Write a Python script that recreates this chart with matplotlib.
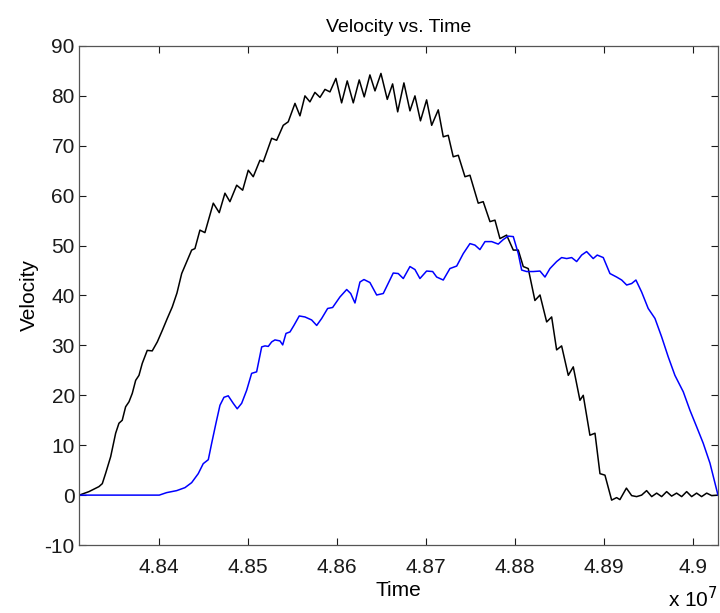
import matplotlib
matplotlib.use("Agg")
import matplotlib.pyplot as plt
import numpy as np
from matplotlib.ticker import FuncFormatter, MultipleLocator

# Time in units of 1e7, velocity
t_black = [4.83098, 4.83117, 4.8321, 4.83322, 4.8336, 4.83398, 4.83454, 4.8351, 4.83547,
           4.83584, 4.83622, 4.8366, 4.83697, 4.83735, 4.83772, 4.83809, 4.83865, 4.83921,
           4.83978, 4.84034, 4.8409, 4.84146, 4.84199, 4.84252, 4.84364, 4.84401, 4.84457,
           4.84513, 4.84607, 4.84674, 4.84738, 4.84794, 4.8487, 4.84937, 4.85, 4.85056,
           4.85131, 4.85169, 4.85263, 4.85319, 4.85393, 4.85449, 4.85525, 4.85581, 4.85637,
           4.85693, 4.85749, 4.85806, 4.85862, 4.85918, 4.85985, 4.86049, 4.86112, 4.8618,
           4.86247, 4.86303, 4.86367, 4.86424, 4.86491, 4.86562, 4.86622, 4.86679, 4.86749,
           4.86817, 4.86873, 4.86935, 4.87004, 4.87061, 4.87135, 4.87191, 4.87247, 4.87303,
           4.8736, 4.87435, 4.87491, 4.87584, 4.8764, 4.87716, 4.87772, 4.87828, 4.87903,
           4.87978, 4.88034, 4.8809, 4.88146, 4.88221, 4.88278, 4.88353, 4.88409, 4.88465,
           4.88521, 4.88596, 4.88652, 4.88727, 4.88764, 4.88839, 4.88896, 4.88952, 4.89008,
           4.89083, 4.89139, 4.89176, 4.89249, 4.89308, 4.89364, 4.8942, 4.89476, 4.89533,
           4.89589, 4.89645, 4.89701, 4.89757, 4.89813, 4.8987, 4.89926, 4.89982, 4.90038,
           4.90094, 4.90151, 4.90207, 4.90278]
v_black = [0, 0.1, 0.7, 1.7, 2.3, 4.4, 7.7, 12.4, 14.4,
           15, 17.7, 18.7, 20.4, 23, 24, 26.4, 29, 28.9,
           30.7, 33, 35.4, 37.7, 40.5, 44.4, 49.1, 49.4, 53.1,
           52.6, 58.5, 56.6, 60.5, 58.8, 62.1, 61.1, 65.1, 63.8,
           67.1, 66.8, 71.5, 71.1, 74.1, 74.8, 78.5, 76, 80,
           78.8, 80.7, 79.7, 81.3, 80.8, 83.5, 78.6, 83, 78.6,
           83.2, 79.8, 84.2, 81, 84.5, 79.3, 82.4, 76.8, 82.6,
           77, 80, 75, 79.2, 74.1, 77.2, 71.8, 72.1, 67.8,
           68.1, 63.8, 64.1, 58.5, 58.8, 54.8, 55.1, 51.4, 52.1,
           49.1, 49.1, 45.8, 45.4, 39, 40.1, 34.7, 35.7, 29.1,
           29.9, 24, 25.7, 19, 20, 12, 12.4, 4.3, 4,
           -1, -0.5, -0.9, 1.4, -0.1, -0.3, 0, 0.9, -0.3,
           0.4, -0.3, 0.7, -0.2, 0.4, -0.3, 0.7, -0.3, 0.4,
           -0.3, 0.4, -0.1, 0]

t_blue = [4.83098, 4.84, 4.84083, 4.84196, 4.84289, 4.84364, 4.84438, 4.84494, 4.84551,
          4.84589, 4.84637, 4.84682, 4.84727, 4.84775, 4.84831, 4.84876, 4.84926, 4.84982,
          4.85038, 4.85094, 4.85151, 4.85188, 4.85225, 4.85263, 4.853, 4.85356, 4.85387,
          4.85424, 4.85469, 4.85513, 4.85573, 4.85637, 4.85712, 4.85769, 4.85825, 4.85892,
          4.85948, 4.8603, 4.86106, 4.86151, 4.86199, 4.86255, 4.863, 4.86367, 4.86443,
          4.86517, 4.86629, 4.86685, 4.86742, 4.86817, 4.86873, 4.86929, 4.87004, 4.87072,
          4.87117, 4.87191, 4.87266, 4.87342, 4.87416, 4.87491, 4.87547, 4.87603, 4.8766,
          4.87735, 4.87809, 4.87865, 4.87921, 4.87978, 4.88034, 4.88072, 4.88128, 4.88202,
          4.88278, 4.88334, 4.8839, 4.88465, 4.88521, 4.88578, 4.88634, 4.8869, 4.88746,
          4.88802, 4.88876, 4.88921, 4.88989, 4.89064, 4.89139, 4.89196, 4.89252, 4.89308,
          4.89356, 4.8942, 4.89494, 4.8957, 4.89645, 4.89719, 4.89794, 4.89888, 4.89963,
          4.90038, 4.90112, 4.90188, 4.90278]
v_blue = [0, 0, 0.5, 0.9, 1.5, 2.5, 4.3, 6.3, 7.1,
          10.4, 14.4, 18, 19.6, 19.9, 18.4, 17.3, 18.4, 21,
          24.4, 24.7, 29.7, 29.9, 29.8, 30.7, 31.1, 30.9, 30.1,
          32.4, 32.7, 34, 35.9, 35.7, 35.1, 34, 35.4, 37.4,
          37.6, 39.7, 41.2, 40.4, 38.5, 42.7, 43.2, 42.6, 40.1,
          40.4, 44.5, 44.4, 43.4, 45.8, 45.2, 43.4, 44.9, 44.8,
          43.7, 43.1, 45.4, 45.9, 48.4, 50.4, 50.1, 49.2, 50.8,
          50.8, 50.3, 51.2, 51.9, 51.8, 48.4, 45.1, 44.8, 44.8,
          44.9, 43.7, 45.4, 46.8, 47.6, 47.4, 47.6, 46.8, 48.1,
          48.8, 47.4, 48.1, 47.6, 44.4, 43.7, 43.1, 42.1, 42.4,
          43.1, 40.7, 37.4, 35.4, 31.7, 27.7, 24, 20.7, 17,
          13.7, 10.4, 6.4, 0]

x_ticks = [4.84, 4.85, 4.86, 4.87, 4.88, 4.89, 4.90]

plt.rcParams['font.family'] = ['Liberation Sans', 'DejaVu Sans']
plt.rcParams['axes.unicode_minus'] = False

fig = plt.figure(figsize=(7.2, 6.13), dpi=100)
ax = fig.add_axes([0.1097, 0.1109, 0.8875, 0.8141])

scale = 1e7
ax.plot(np.array(t_black) * scale, v_black, color='black', lw=1.1, solid_joinstyle='round')
ax.plot(np.array(t_blue) * scale, v_blue, color='#0000ff', lw=1.1, solid_joinstyle='round')

ax.set_xlim(t_black[0] * scale, t_black[-1] * scale)
ax.set_ylim(-10, 90)
ax.set_xticks(np.array(x_ticks) * scale)
ax.xaxis.set_major_formatter(FuncFormatter(lambda x, p: f"{x / scale:g}"))
ax.yaxis.set_major_locator(MultipleLocator(10))

ax.tick_params(direction='in', length=5, width=0.8, top=True, right=True,
               labelsize=15, colors='#1a1a1a')
ax.tick_params(axis='x', pad=9)
ax.tick_params(axis='y', pad=3)
for s in ax.spines.values():
    s.set_color('#555555')
    s.set_linewidth(0.9)

ax.set_title('Velocity vs. Time', fontsize=14, pad=10)
ax.set_xlabel('Time', fontsize=15, labelpad=3)
ax.set_ylabel('Velocity', fontsize=15, labelpad=4)
ax.text(1.0, -0.124, r'x 10$^{7}$', transform=ax.transAxes, ha='right', va='baseline',
        fontsize=15)

fig.savefig('out.png', dpi=100)
